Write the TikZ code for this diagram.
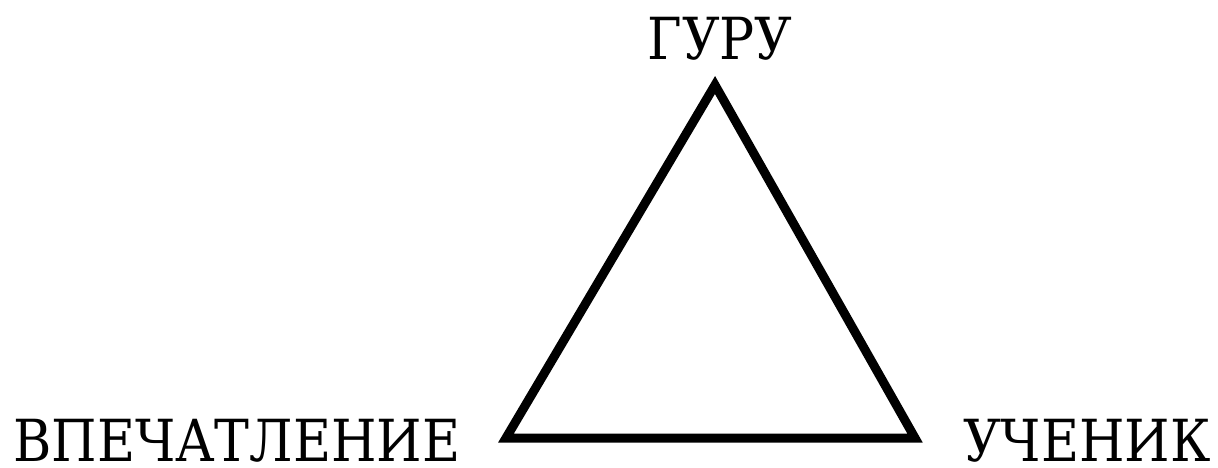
\documentclass[tikz,border=0pt]{standalone}
\usepackage{fontspec}
\setmainfont{DejaVu Serif Condensed}
\usetikzlibrary{positioning}

\begin{document}
\begin{tikzpicture}[
    x=1pt, y=-1pt,
    label/.style={font=\fontsize{58}{60}\selectfont, inner sep=0pt},
    edge/.style={line width=9pt, line join=miter}
]
    \useasboundingbox (0,0) rectangle (1218,468);

    % Corners
    \coordinate (top) at (715,85);
    \coordinate (left) at (506,438);
    \coordinate (right) at (915,438);

    % Labels
    \node[label, anchor=base] (guru) at (720,60) {ГУРУ};
    \node[label, anchor=base west] (impr) at (13,461) {ВПЕЧАТЛЕНИЕ};
    \node[label, anchor=base east] (pupil) at (1211,461) {УЧЕНИК};

    % Triangle
    \draw[edge] (top) -- (right) -- (left) -- cycle;
\end{tikzpicture}
\end{document}
